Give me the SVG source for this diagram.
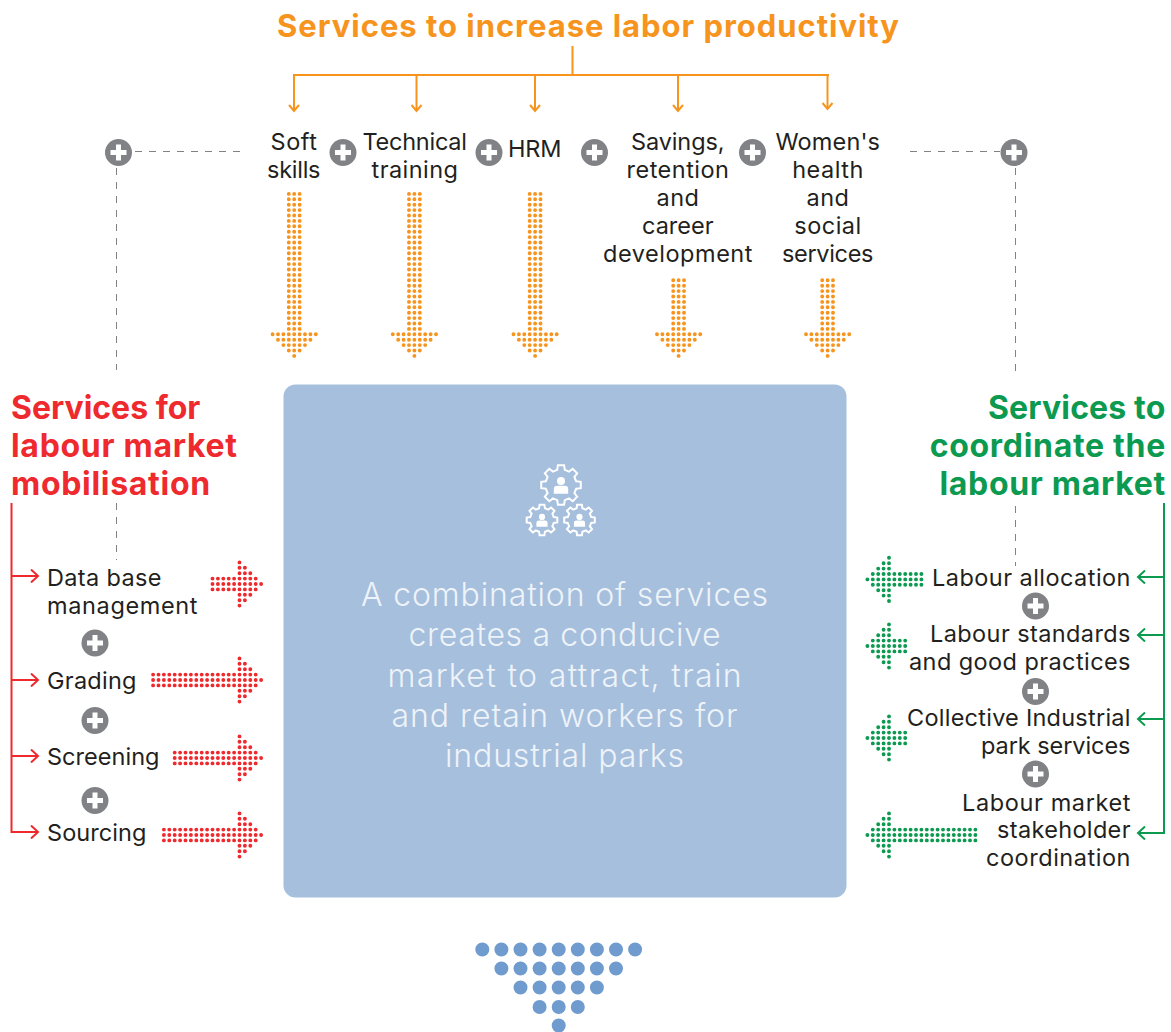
<svg xmlns="http://www.w3.org/2000/svg" xmlns:xlink="http://www.w3.org/1999/xlink" width="1171" height="1032" viewBox="0 0 1171 1032">
<style>
text{font-family:"Inter","Liberation Sans",sans-serif}
.t{font-size:23.5px;fill:#231f20;letter-spacing:.5px}
.m{text-anchor:middle}.e{text-anchor:end}
.h{font-size:31px;font-weight:700;letter-spacing:1px}
.o{fill:#f7941d}.r{fill:#ee2a2e}.g{fill:#0c9a50}
.c{font-size:32px;fill:#eef3f9;text-anchor:middle;font-weight:300;letter-spacing:.95px}
.dash{fill:none;stroke:#808285;stroke-width:1;stroke-dasharray:7 7}
.lo,.lr,.lg{fill:none;stroke-width:2}
.lo{stroke:#f7941d}.lr{stroke:#ee2a2e}.lg{stroke:#0c9a50}
.do,.dr,.dg,.db{fill:none;stroke-linecap:round;stroke-width:3.9;stroke-dasharray:0 5.4}
.do{stroke:#f7941d}.dr{stroke:#ee2a2e}.dg{stroke:#0c9a50}
.db{stroke:#6f9bce;stroke-width:14;stroke-dasharray:0 19.1}
.pc{fill:#808285}.pp{fill:none;stroke:#fff;stroke-width:5}
.gear{fill:none;stroke:#fff;stroke-width:2;vector-effect:non-scaling-stroke}
</style>
<defs>
<g id="plus"><circle class="pc" r="13.5"/><path class="pp" d="M-8,0H8M0,-8V8"/></g>
<path id="hd" d="M-21.6,0H21.7M-16.2,5.4H16.3M-10.8,10.8H10.9M-5.4,16.2H5.5M0,21.6H.1"/>
<g id="gear"><path class="gear" d="M75.7,-18.9L98.8,-15.6 98.8,15.6 75.7,18.9 66.9,40.2 80.9,58.8 58.8,80.9 40.2,66.9 18.9,75.7 15.6,98.8 -15.6,98.8 -18.9,75.7 -40.2,66.9 -58.8,80.9 -80.9,58.8 -66.9,40.2 -75.7,18.9 -98.8,15.6 -98.8,-15.6 -75.7,-18.9 -66.9,-40.2 -80.9,-58.8 -58.8,-80.9 -40.2,-66.9 -18.9,-75.7 -15.6,-98.8 15.6,-98.8 18.9,-75.7 40.2,-66.9 58.8,-80.9 80.9,-58.8 66.9,-40.2Z"/><circle cx="0" cy="-20" r="20" fill="#fff"/><path fill="#fff" d="M-36,44V20Q-36,4 -18,4H18Q36,4 36,20V44Z"/></g>
<marker id="ao" markerWidth="14" markerHeight="12" refX="11" refY="6" orient="auto" markerUnits="userSpaceOnUse"><path class="lo" d="M5,1L11,6 5,11"/></marker>
<marker id="ar" markerWidth="14" markerHeight="14" refX="12" refY="7" orient="auto" markerUnits="userSpaceOnUse"><path class="lr" d="M5,.5L12,7 5,13.5"/></marker>
<marker id="ag" markerWidth="14" markerHeight="14" refX="12" refY="7" orient="auto" markerUnits="userSpaceOnUse"><path class="lg" d="M5,.5L12,7 5,13.5"/></marker>
</defs>

<text class="h o m" x="588.5" y="37" textLength="623">Services to increase labor productivity</text>
<g id="title-left" class="h r" style="font-size:32px;letter-spacing:.7px"><text x="11" y="419" textLength="190">Services for</text><text x="11" y="457">labour market</text><text x="11" y="495">mobilisation</text></g>
<g id="title-right" class="h g e" style="font-size:32px;letter-spacing:.7px"><text x="1166" y="419" textLength="178">Services to</text><text x="1166" y="457">coordinate the</text><text x="1166" y="495">labour market</text></g>

<g id="connectors">
<path class="lo" d="M572.500,46V75M293,75H829"/>
<path class="lo" marker-end="url(#ao)" d="M294,75V111"/>
<path class="lo" marker-end="url(#ao)" d="M416.500,75V111"/>
<path class="lo" marker-end="url(#ao)" d="M535,75V111"/>
<path class="lo" marker-end="url(#ao)" d="M678,75V111"/>
<path class="lo" marker-end="url(#ao)" d="M827.500,75V109"/>
<path class="lr" d="M11.500,503V833"/>
<path class="lr" marker-end="url(#ar)" d="M11.500,576H38"/>
<path class="lr" marker-end="url(#ar)" d="M11.500,680H38"/>
<path class="lr" marker-end="url(#ar)" d="M11.500,756H38"/>
<path class="lr" marker-end="url(#ar)" d="M11.500,832H38"/>
<path class="lg" d="M1164,503V834"/>
<path class="lg" marker-end="url(#ag)" d="M1164,577H1138"/>
<path class="lg" marker-end="url(#ag)" d="M1164,635H1138"/>
<path class="lg" marker-end="url(#ag)" d="M1164,719H1138"/>
<path class="lg" marker-end="url(#ag)" d="M1164,833H1138"/>
<path class="dash" d="M135,151.500H243M116.500,168V370M116.500,503V560M910,151.500H1000M1015.500,168V374M1015.500,506V566"/>
</g>

<g id="services-top">
<g id="soft"><text class="t m" x="294" y="150" textLength="47">Soft</text><text class="t m" x="294" y="178" textLength="54">skills</text></g>
<g id="technical"><text class="t m" x="415" y="150" textLength="105">Technical</text><text class="t m" x="415" y="178" textLength="87">training</text></g>
<g id="hrm"><text class="t m" x="535" y="157" textLength="54">HRM</text></g>
<g id="savings"><text class="t m" x="678" y="150" textLength="94">Savings,</text><text class="t m" x="678" y="178" textLength="103">retention</text><text class="t m" x="678" y="206">and</text><text class="t m" x="678" y="234" textLength="72">career</text><text class="t m" x="678" y="262" textLength="150">development</text></g>
<g id="womens"><text class="t m" x="828" y="150" textLength="105">Women's</text><text class="t m" x="828" y="178">health</text><text class="t m" x="828" y="206">and</text><text class="t m" x="828" y="234">social</text><text class="t m" x="828" y="262" textLength="92">services</text></g>
</g>

<g id="arrows-orange" class="do">
<path d="M288.800,193.900V329.200M294.200,193.900V329.200M299.600,193.900V329.200"/><use href="#hd" x="294.200" y="334.300"/>
<path d="M409,193.900V329.200M414.400,193.900V329.200M419.800,193.900V329.200"/><use href="#hd" x="414.400" y="334.300"/>
<path d="M529.700,193.900V329.200M535.100,193.900V329.200M540.500,193.900V329.200"/><use href="#hd" x="535.100" y="334.300"/>
<path d="M673.200,280.300V329.200M678.600,280.300V329.200M684,280.300V329.200"/><use href="#hd" x="678.600" y="334.300"/>
<path d="M822.200,280.300V329.200M827.600,280.300V329.200M833,280.300V329.200"/><use href="#hd" x="827.600" y="334.300"/>
</g>

<g id="arrows-red" class="dr">
<path d="M212.500,578.600H234.300M212.500,584H234.300M212.500,589.400H234.300"/><use href="#hd" transform="translate(239.500,584) rotate(-90)"/>
<path d="M153.100,674.600H234.300M153.100,680H234.300M153.100,685.400H234.300"/><use href="#hd" transform="translate(239.500,680) rotate(-90)"/>
<path d="M174.700,752.600H234.300M174.700,758H234.300M174.700,763.400H234.300"/><use href="#hd" transform="translate(239.500,758) rotate(-90)"/>
<path d="M163.900,829.600H234.300M163.900,835H234.300M163.900,840.400H234.300"/><use href="#hd" transform="translate(239.500,835) rotate(-90)"/>
</g>

<g id="arrows-green" class="dg">
<path d="M921.400,574H894.300M921.400,579.400H894.300M921.400,584.800H894.300"/><use href="#hd" transform="translate(889,579.400) rotate(90)"/>
<path d="M905.200,640.600H894.300M905.200,646H894.300M905.200,651.400H894.300"/><use href="#hd" transform="translate(889,646) rotate(90)"/>
<path d="M905.200,732.600H894.300M905.200,738H894.300M905.200,743.400H894.300"/><use href="#hd" transform="translate(889,738) rotate(90)"/>
<path d="M975.400,829.600H894.300M975.400,835H894.300M975.400,840.400H894.300"/><use href="#hd" transform="translate(889,835) rotate(90)"/>
</g>

<g id="centre">
<rect x="283.500" y="384.500" width="563" height="513" rx="12" fill="#a5bfdd"/>
<use href="#gear" transform="translate(561,485) scale(.2)"/>
<use href="#gear" transform="translate(542,520) scale(.155)"/>
<use href="#gear" transform="translate(579.500,520) scale(.155)"/>
<text class="c" x="565" y="606" textLength="408">A combination of services</text>
<text class="c" x="565" y="646" textLength="313">creates a conducive</text>
<text class="c" x="565" y="687" textLength="355">market to attract, train</text>
<text class="c" x="565" y="727" textLength="347">and retain workers for</text>
<text class="c" x="565" y="767" textLength="240">industrial parks</text>
</g>

<g id="services-left">
<g id="database"><text class="t" x="47" y="586" textLength="115">Data base</text><text class="t" x="47" y="613.500" textLength="151">management</text></g>
<g id="grading"><text class="t" x="47" y="689" textLength="90">Grading</text></g>
<g id="screening"><text class="t" x="47" y="765" textLength="113">Screening</text></g>
<g id="sourcing"><text class="t" x="47" y="841" textLength="100">Sourcing</text></g>
</g>
<g id="services-right">
<g id="allocation"><text class="t e" x="1131" y="585.500" textLength="199">Labour allocation</text></g>
<g id="standards"><text class="t e" x="1131" y="642" textLength="201">Labour standards</text><text class="t e" x="1131" y="670" textLength="222">and good practices</text></g>
<g id="collective"><text class="t e" x="1131" y="726" textLength="224">Collective Industrial</text><text class="t e" x="1131" y="754" textLength="150">park services</text></g>
<g id="stakeholder"><text class="t e" x="1131" y="810.500" textLength="169">Labour market</text><text class="t e" x="1131" y="838" textLength="134">stakeholder</text><text class="t e" x="1131" y="866" textLength="145">coordination</text></g>
</g>

<g id="plus-signs">
<use id="plus1" href="#plus" x="118.500" y="152.500"/>
<use id="plus2" href="#plus" x="343" y="152.500"/>
<use id="plus3" href="#plus" x="489" y="152.500"/>
<use id="plus4" href="#plus" x="594.500" y="152.500"/>
<use id="plus5" href="#plus" x="752.500" y="152.500"/>
<use id="plus6" href="#plus" x="1014" y="152.500"/>
<use id="plus7" href="#plus" x="95" y="643"/>
<use id="plus8" href="#plus" x="95" y="720.500"/>
<use id="plus9" href="#plus" x="95" y="800.500"/>
<use id="plus10" href="#plus" x="1035.500" y="606"/>
<use id="plus11" href="#plus" x="1035.500" y="691.500"/>
<use id="plus12" href="#plus" x="1035.500" y="774"/>
</g>

<g id="big-arrow" class="db">
<path d="M482.300,949.500H636"/>
<path d="M501.400,968.500H616.500"/>
<path d="M520.500,987.500H597.500"/>
<path d="M539.600,1007H578.500"/>
<path d="M558.700,1025.500H559"/>
</g>
</svg>
